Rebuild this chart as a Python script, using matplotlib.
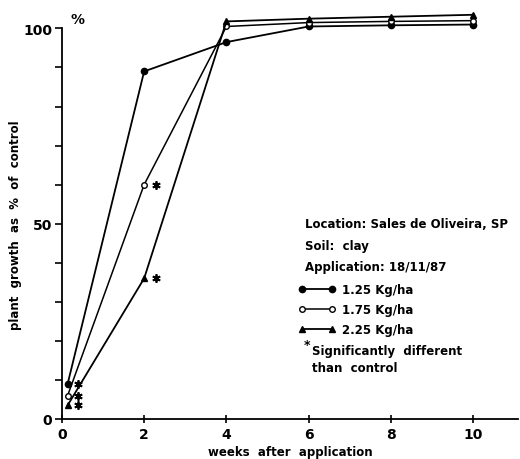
import matplotlib.pyplot as plt

# valores (semanas apos aplicacao, % do controle)
weeks = [0.14, 2, 4, 6, 8, 10]
dose_125 = [9, 89, 96.5, 100.5, 100.8, 101]
dose_175 = [6, 60, 100.5, 101.5, 101.8, 102]
dose_225 = [3.5, 36, 101.8, 102.5, 103, 103.5]

# asteriscos (significativamente diferente do controle)
star_x = [0.4, 0.4, 0.4, 2.3, 2.3]
star_y = [9, 6, 3.5, 60, 36]

x_ticks = [0, 2, 4, 6, 8, 10]
y_ticks = [0, 50, 100]

info_lines = ['Location: Sales de Oliveira, SP', 'Soil:  clay', 'Application: 18/11/87']
labels = ['1.25 Kg/ha', '1.75 Kg/ha', '2.25 Kg/ha']

plt.rcParams['font.family'] = ['DejaVu Sans']
plt.rcParams['font.weight'] = 'bold'
plt.rcParams['axes.labelweight'] = 'bold'

fig = plt.figure(figsize=(5.2, 4.6), dpi=100)
ax = fig.add_axes([0.119, 0.087, 0.878, 0.849])

l1, = ax.plot(weeks, dose_125, color='black', lw=1.3, marker='o', ms=4.5,
              mfc='black', clip_on=False)
l2, = ax.plot(weeks, dose_175, color='black', lw=1.1, marker='o', ms=4,
              mfc='white', mew=1, clip_on=False)
l3, = ax.plot(weeks, dose_225, color='black', lw=1.3, marker='^', ms=4.5,
              mfc='black', clip_on=False)
ax.plot(star_x, star_y, ls='none', marker=(6, 2, 0), ms=6, mew=1.3, color='black')

ax.set_xlim(0, 11.1)
ax.set_ylim(0, 100)
ax.set_xticks(x_ticks)
ax.set_yticks(range(0, 101, 10))
ax.set_yticklabels([str(v) if v in y_ticks else '' for v in range(0, 101, 10)])
ax.spines['top'].set_visible(False)
ax.spines['right'].set_visible(False)
ax.spines['left'].set_linewidth(1.3)
ax.spines['bottom'].set_linewidth(1.3)
ax.tick_params(axis='y', direction='out', length=5, width=1.2, labelsize=10, pad=2)
ax.tick_params(axis='x', direction='inout', length=6, width=1.2, labelsize=10, pad=3)

ax.set_xlabel('weeks  after  application', fontsize=8.5, labelpad=3)
ax.set_ylabel('plant  growth  as  %  of  control', fontsize=8.5)
ax.yaxis.set_label_coords(-0.088, 0.5)
ax.text(0.2, 100.5, '%', fontsize=10, va='bottom', ha='left')

for i, line in enumerate(info_lines):
    fig.text(0.587, 1 - (225 + i * 21.5) / 460, line, fontsize=8.5, va='center')

ax.legend([l1, l2, l3], labels, numpoints=2, frameon=False, fontsize=8.5,
          loc='upper left', bbox_to_anchor=(0.573, 1 - 284 / 460),
          bbox_transform=fig.transFigure, handlelength=3.2, handletextpad=0.5,
          labelspacing=0.6, borderpad=0, borderaxespad=0)

fig.text(0.585, 1 - 346 / 460, '*', fontsize=9, va='center')
fig.text(0.6, 1 - 352 / 460, 'Significantly  different', fontsize=8.5, va='center')
fig.text(0.6, 1 - 368 / 460, 'than  control', fontsize=8.5, va='center')

fig.savefig('out.png', dpi=100)
